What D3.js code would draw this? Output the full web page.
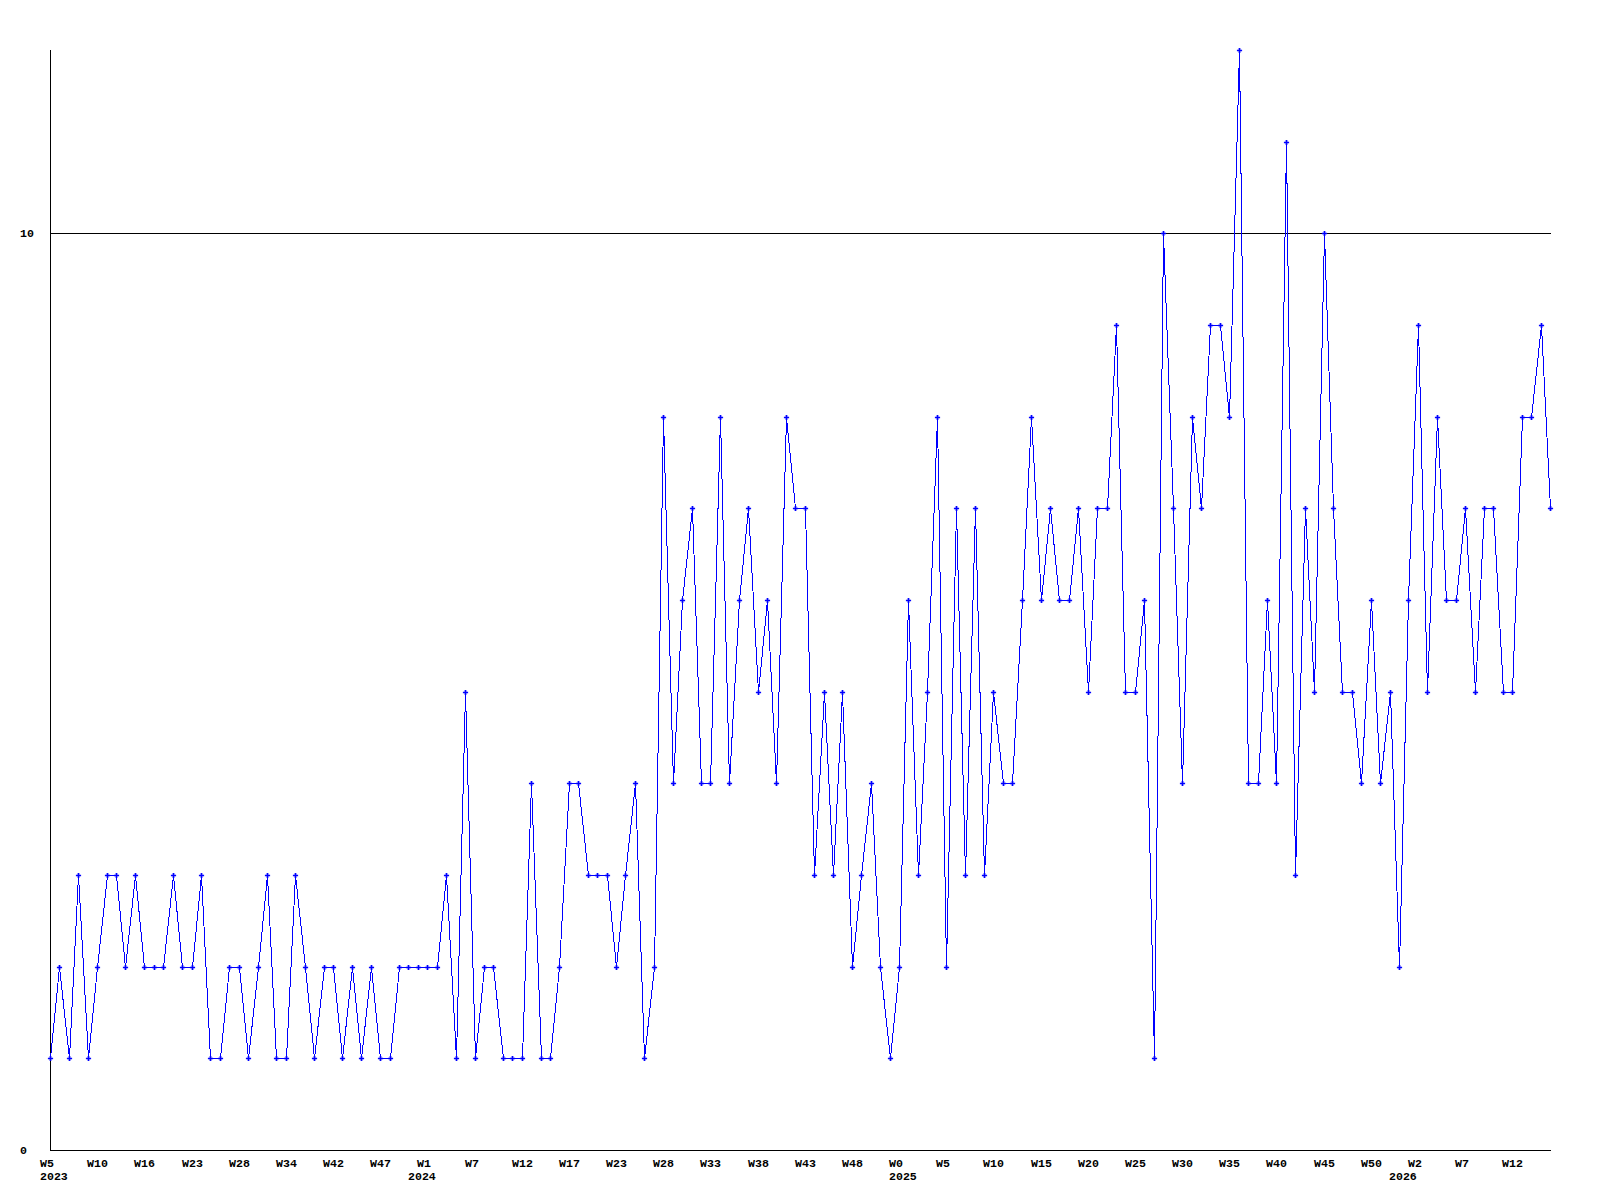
<!DOCTYPE html>
<html>
<head>
<meta charset="utf-8">
<script src="https://cdn.jsdelivr.net/npm/d3@7"></script>
<style>
  html, body { margin: 0; padding: 0; background: #fff; }
  svg { display: block; }
  text { font-family: "Liberation Mono", "DejaVu Sans Mono", monospace; font-weight: bold; font-size: 11.6px; fill: #000; }
</style>
</head>
<body>
<script>
// Weekly counts, one per data point (index 0 .. 159)
const values = [
  1,2,1,3,1,2,3,3,2,3,
  2,2,2,3,2,2,3,1,1,2,
  2,1,2,3,1,1,3,2,1,2,
  2,1,2,1,2,1,1,2,2,2,
  2,2,3,1,5,1,2,2,1,1,
  1,4,1,1,2,4,4,3,3,3,
  2,3,4,1,2,8,4,6,7,4,
  4,8,4,6,7,5,6,4,8,7,
  7,3,5,3,5,2,3,4,2,1,
  2,6,3,5,8,2,7,3,7,3,
  5,4,4,6,8,6,7,6,6,7,
  5,7,7,9,5,5,6,1,10,7,
  4,8,7,9,9,8,12,4,4,6,
  4,11,3,7,5,10,7,5,5,4,
  6,4,5,2,6,9,5,8,6,6,
  7,5,7,7,5,5,8,8,9,7
];

// Week tick labels (every 5th point)
const weekTickIndex = [0,5,10,15,20,25,30,35,40,45,50,55,60,65,70,75,80,85,90,95,100,105,110,115,120,125,130,135,140,145,150,155];
const weekTickLabels = ["W5","W10","W16","W23","W28","W34","W42","W47",
  "W1","W7","W12","W17","W23","W28","W33","W38","W43","W48",
  "W0","W5","W10","W15","W20","W25","W30","W35","W40","W45","W50",
  "W2","W7","W12"];

// Year labels at the first point of each year
const yearIndex = [0, 39, 90, 143];
const yearLabels = ["2023","2024","2025","2026"];

// Y tick labels
const yTicks = [0, 10];
const yMax = 12;

const W = 1600, H = 1200;
const mLeft = 50, mRight = 1550, mTop = 50, mBottom = 1150;

const svg = d3.select("body").append("svg")
  .attr("width", W).attr("height", H);
svg.append("rect").attr("width", W).attr("height", H).attr("fill", "#fff");

const x = d3.scaleLinear().domain([0, values.length - 1]).range([mLeft, mRight]);
const y = d3.scaleLinear().domain([0, yMax]).range([mBottom, mTop]);

// Horizontal grid line(s) (non-zero ticks)
svg.selectAll("line.grid").data(yTicks.filter(d => d !== 0)).enter()
  .append("line")
  .attr("x1", mLeft).attr("x2", mRight + 1)
  .attr("y1", d => Math.round(y(d)) + 0.5).attr("y2", d => Math.round(y(d)) + 0.5)
  .attr("stroke", "#000").attr("stroke-width", 1)
  .attr("shape-rendering", "crispEdges");

// Axes lines
svg.append("line")
  .attr("x1", mLeft + 0.5).attr("x2", mLeft + 0.5)
  .attr("y1", mTop).attr("y2", mBottom + 1)
  .attr("stroke", "#000").attr("shape-rendering", "crispEdges");
svg.append("line")
  .attr("x1", mLeft).attr("x2", mRight + 1)
  .attr("y1", mBottom + 0.5).attr("y2", mBottom + 0.5)
  .attr("stroke", "#000").attr("shape-rendering", "crispEdges");

// Y labels
svg.selectAll("text.ylab").data(yTicks).enter()
  .append("text")
  .attr("x", 20)
  .attr("y", d => y(d) + 4)
  .text(d => d);

// X week labels
svg.selectAll("text.wlab").data(weekTickIndex).enter()
  .append("text")
  .attr("x", d => Math.round(x(d)) - 10)
  .attr("y", 1166.5)
  .text((d, i) => weekTickLabels[i]);

// Year labels
svg.selectAll("text.yrlab").data(yearIndex).enter()
  .append("text")
  .attr("x", d => Math.round(x(d)) - 10)
  .attr("y", 1179.5)
  .text((d, i) => yearLabels[i]);

// Data line
const line = d3.line()
  .x((d, i) => Math.round(x(i)) + 0.5)
  .y(d => Math.round(y(d)) + 0.5);

svg.append("path")
  .datum(values)
  .attr("d", line)
  .attr("fill", "none")
  .attr("stroke", "#0000ff")
  .attr("stroke-width", 1)
  .attr("shape-rendering", "crispEdges");

// Markers
const cross = d3.symbol().type(d3.symbolCross).size(15);
svg.selectAll("path.pt").data(values).enter()
  .append("path")
  .attr("d", cross)
  .attr("transform", (d, i) => `translate(${Math.round(x(i)) + 0.5},${Math.round(y(d)) + 0.5})`)
  .attr("fill", "#0000ff");
</script>
</body>
</html>
